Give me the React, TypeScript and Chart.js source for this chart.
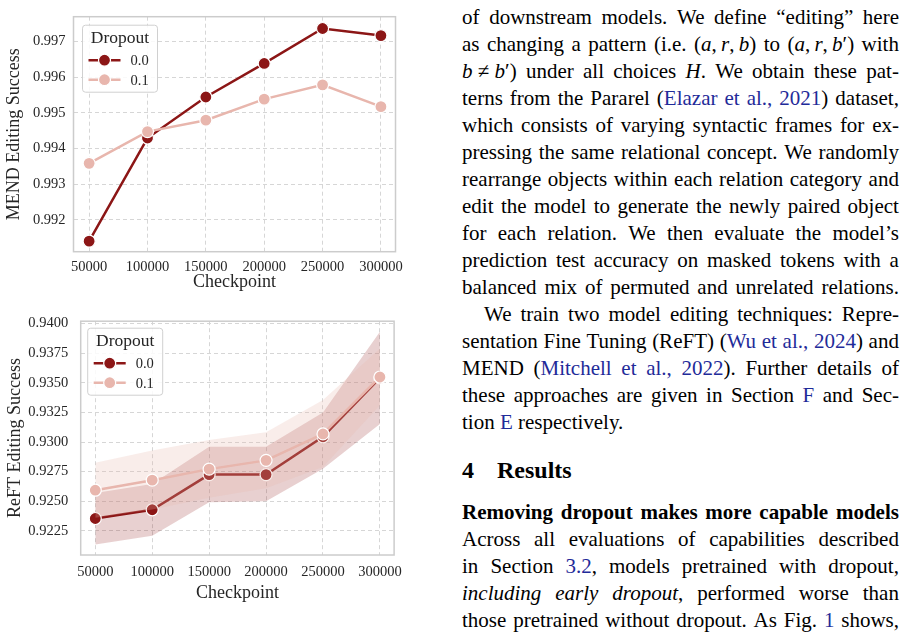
import React, { useEffect, useRef } from "react";
import { Chart, registerables } from "chart.js";

Chart.register(...registerables);

// ---------------- data ----------------
const checkpoints = [50000, 100000, 150000, 200000, 250000, 300000];
const dropoutLabels = ["0.0", "0.1"];

const mendDropout00 = [0.9914, 0.99429, 0.99544, 0.99638, 0.99736, 0.99716];
const mendDropout01 = [0.99358, 0.99447, 0.99479, 0.99538, 0.99578, 0.99517];
const mendYTicks = [0.992, 0.993, 0.994, 0.995, 0.996, 0.997];

const reftDropout00 = [0.92354, 0.92428, 0.92725, 0.92725, 0.93044, 0.93541];
const reftDropout01 = [0.92593, 0.92678, 0.92771, 0.92845, 0.93068, 0.93549];
const reftDropout00Lower = [0.92135, 0.92209, 0.92492, 0.925, 0.92775, 0.93151];
const reftDropout00Upper = [0.9257, 0.92645, 0.9296, 0.9296, 0.9325, 0.9393];
const reftDropout01Lower = [0.9236, 0.9243, 0.9253, 0.9261, 0.9279, 0.9331];
const reftDropout01Upper = [0.92825, 0.92928, 0.93016, 0.93082, 0.93354, 0.9379];
const reftYTicks = [0.9225, 0.925, 0.9275, 0.93, 0.9325, 0.935, 0.9375, 0.94];

// ---------------- styles ----------------
const SERIF = '"Liberation Serif", "Times New Roman", serif';
const SERIES_COLORS = ["#8c1616", "#e8b6ad"];
const BAND_COLORS = ["rgba(140,22,22,0.2)", "rgba(232,182,173,0.25)"];
const TEXT_COLOR = "#262626";
const LINK = "#1f2b99";

const pts = (vals: number[]) => checkpoints.map((x, i) => ({ x, y: vals[i] }));

const frameLegendPlugin = {
  id: "frameLegend",
  afterDatasetsDraw(chart: any, _args: any, opts: any) {
    const { ctx, chartArea: a } = chart;
    ctx.save();
    ctx.strokeStyle = "#cccccc";
    ctx.lineWidth = 1.5;
    ctx.strokeRect(a.left, a.top, a.right - a.left, a.bottom - a.top);

    const bx = a.left + opts.dx;
    const by = a.top + opts.dy;
    const bw = 75;
    const bh = 67;
    ctx.beginPath();
    if (ctx.roundRect) ctx.roundRect(bx, by, bw, bh, 3);
    else ctx.rect(bx, by, bw, bh);
    ctx.fillStyle = "rgba(255,255,255,0.85)";
    ctx.fill();
    ctx.strokeStyle = "#d0d0d0";
    ctx.lineWidth = 1;
    ctx.stroke();

    ctx.fillStyle = TEXT_COLOR;
    ctx.font = `17.5px ${SERIF}`;
    ctx.textAlign = "center";
    ctx.textBaseline = "middle";
    ctx.fillText(opts.title, bx + bw / 2, by + 13);

    opts.entries.forEach((e: any, i: number) => {
      const y = by + 35 + i * 19.5;
      ctx.strokeStyle = e.color;
      ctx.lineWidth = 2.5;
      ctx.beginPath();
      ctx.moveTo(bx + 6, y);
      ctx.lineTo(bx + 38, y);
      ctx.stroke();
      ctx.beginPath();
      ctx.arc(bx + 22, y, 6, 0, Math.PI * 2);
      ctx.fillStyle = e.color;
      ctx.fill();
      ctx.strokeStyle = "#ffffff";
      ctx.lineWidth = 1.2;
      ctx.stroke();
      ctx.fillStyle = TEXT_COLOR;
      ctx.font = `14.5px ${SERIF}`;
      ctx.textAlign = "left";
      ctx.textBaseline = "middle";
      ctx.fillText(e.label, bx + 48, y + 1);
    });
    ctx.restore();
  },
};

interface PanelProps {
  top: number;
  width: number;
  height: number;
  area: { left: number; top: number; right: number; bottom: number };
  xMin: number;
  xMax: number;
  yMin: number;
  yMax: number;
  yTicks: number[];
  decimals: number;
  yTitle: string;
  series: number[][];
  bands?: { lower: number[]; upper: number[] }[];
  xTickPad: number;
  yTickPad: number;
  xTitlePadBottom: number;
  yTitlePadTop: number;
  legendDx: number;
  legendDy: number;
}

function Panel(p: PanelProps) {
  const ref = useRef<HTMLCanvasElement>(null);
  useEffect(() => {
    if (!ref.current) return;
    const datasets: any[] = [];
    let order = 100;
    p.series.forEach((vals, si) => {
      const color = SERIES_COLORS[si];
      const band = p.bands ? p.bands[si] : undefined;
      if (band) {
        const upIdx = datasets.length;
        datasets.push({
          label: "_band",
          data: pts(band.upper),
          fill: upIdx + 1,
          backgroundColor: BAND_COLORS[si],
          borderColor: "rgba(0,0,0,0)",
          borderWidth: 0,
          pointRadius: 0,
          order: order--,
        });
        datasets.push({
          label: "_band",
          data: pts(band.lower),
          fill: false,
          borderColor: "rgba(0,0,0,0)",
          borderWidth: 0,
          pointRadius: 0,
          order: order--,
        });
      }
      datasets.push({
        label: dropoutLabels[si],
        data: pts(vals),
        borderColor: color,
        backgroundColor: color,
        borderWidth: 2.5,
        pointRadius: 6,
        pointHoverRadius: 6,
        pointBackgroundColor: color,
        pointBorderColor: "#ffffff",
        pointBorderWidth: 1.2,
        fill: false,
        tension: 0,
        order: order--,
      });
    });

    const chart = new Chart(ref.current, {
      type: "line",
      data: { datasets },
      plugins: [frameLegendPlugin as any],
      options: {
        responsive: false,
        animation: false,
        devicePixelRatio: 1,
        events: [],
        layout: { padding: { left: 0, top: p.area.top, right: p.width - p.area.right, bottom: 0 } },
        plugins: {
          legend: { display: false },
          tooltip: { enabled: false },
          frameLegend: {
            dx: p.legendDx,
            dy: p.legendDy,
            title: "Dropout",
            entries: dropoutLabels.map((l, i) => ({ label: l, color: SERIES_COLORS[i] })),
          },
        } as any,
        scales: {
          x: {
            type: "linear",
            min: p.xMin,
            max: p.xMax,
            afterBuildTicks: (s: any) => {
              s.ticks = checkpoints.map((v) => ({ value: v }));
            },
            afterFit: (s: any) => {
              s.height = p.height - p.area.bottom;
            },
            ticks: {
              font: { family: SERIF, size: 14.5 },
              color: TEXT_COLOR,
              padding: p.xTickPad,
              maxRotation: 0,
              autoSkip: false,
              callback: (v: any) => String(v),
            },
            grid: { color: "#d6d6d6", lineWidth: 1, drawTicks: false },
            border: { display: false, dash: [4, 3] },
            title: {
              display: true,
              text: "Checkpoint",
              font: { family: SERIF, size: 18 },
              color: TEXT_COLOR,
              padding: { top: 0, bottom: p.xTitlePadBottom },
            },
          },
          y: {
            type: "linear",
            min: p.yMin,
            max: p.yMax,
            afterBuildTicks: (s: any) => {
              s.ticks = p.yTicks.map((v) => ({ value: v }));
            },
            afterFit: (s: any) => {
              s.width = p.area.left;
            },
            ticks: {
              font: { family: SERIF, size: 14.5 },
              color: TEXT_COLOR,
              padding: p.yTickPad,
              autoSkip: false,
              callback: (v: any) => Number(v).toFixed(p.decimals),
            },
            grid: { color: "#d6d6d6", lineWidth: 1, drawTicks: false },
            border: { display: false, dash: [4, 3] },
            title: {
              display: true,
              text: p.yTitle,
              font: { family: SERIF, size: 18 },
              color: TEXT_COLOR,
              padding: { top: p.yTitlePadTop, bottom: 0 },
            },
          },
        },
      } as any,
    });
    return () => chart.destroy();
  }, []);
  return (
    <canvas
      ref={ref}
      width={p.width}
      height={p.height}
      style={{ position: "absolute", left: 0, top: p.top, width: p.width, height: p.height, display: "block" }}
    />
  );
}

// ---------------- paper text ----------------
type Run = { text: string; italic: boolean; blue: boolean };

function parseWords(line: string): Run[][] {
  const words: Run[][] = [[]];
  let italic = false;
  let blue = false;
  let buf = "";
  const flush = () => {
    if (buf) words[words.length - 1].push({ text: buf, italic, blue });
    buf = "";
  };
  for (const ch of line) {
    if (ch === "_") {
      flush();
      italic = !italic;
    } else if (ch === "[") {
      flush();
      blue = true;
    } else if (ch === "]") {
      flush();
      blue = false;
    } else if (ch === " ") {
      flush();
      words.push([]);
    } else buf += ch;
  }
  flush();
  return words.filter((w) => w.length > 0);
}

const paperLines: { t: string; base: number; justify?: boolean; indent?: number; bold?: boolean }[] = [
  { t: "of downstream models. We define “editing” here", base: 25 },
  { t: "as changing a pattern (i.e. (_a_,\u2009_r_,\u2009_b_) to (_a_,\u2009_r_,\u2009_b_′) with", base: 52 },
  { t: "_b_\u2005≠\u2005_b_′) under all choices _H_. We obtain these pat-", base: 79 },
  { t: "terns from the Pararel ([Elazar et al., 2021]) dataset,", base: 106 },
  { t: "which consists of varying syntactic frames for ex-", base: 133 },
  { t: "pressing the same relational concept. We randomly", base: 160 },
  { t: "rearrange objects within each relation category and", base: 187 },
  { t: "edit the model to generate the newly paired object", base: 214 },
  { t: "for each relation. We then evaluate the model’s", base: 241 },
  { t: "prediction test accuracy on masked tokens with a", base: 268 },
  { t: "balanced mix of permuted and unrelated relations.", base: 295 },
  { t: "We train two model editing techniques: Repre-", base: 322, indent: 22 },
  { t: "sentation Fine Tuning (ReFT) ([Wu et al., 2024]) and", base: 349 },
  { t: "MEND ([Mitchell et al., 2022]). Further details of", base: 376 },
  { t: "these approaches are given in Section [F] and Sec-", base: 403 },
  { t: "tion [E] respectively.", base: 430, justify: false },
  { t: "Removing dropout makes more capable models", base: 520, bold: true },
  { t: "Across all evaluations of capabilities described", base: 547 },
  { t: "in Section [3.2], models pretrained with dropout,", base: 574 },
  { t: "_including early dropout_, performed worse than", base: 601 },
  { t: "those pretrained without dropout. As Fig. [1] shows,", base: 628 },
];

const TEXT_LEFT = 462;
const TEXT_WIDTH = 437;

function RunSpan({ r }: { r: Run }) {
  return (
    <span style={{ fontStyle: r.italic ? "italic" : "normal", color: r.blue ? LINK : "#000" }}>{r.text}</span>
  );
}

function PaperText() {
  return (
    <>
      {paperLines.map((ln, i) => {
        const words = parseWords(ln.t);
        const indent = ln.indent || 0;
        const common: React.CSSProperties = {
          position: "absolute",
          left: TEXT_LEFT + indent,
          top: ln.base - 20.6,
          height: 27,
          lineHeight: "27px",
          fontSize: 21,
          fontFamily: SERIF,
          fontWeight: ln.bold ? "bold" : "normal",
          color: "#000",
          whiteSpace: "pre",
        };
        if (ln.justify === false) {
          return (
            <div key={i} style={common}>
              {words.map((w, wi) => (
                <span key={wi}>
                  {wi > 0 ? " " : ""}
                  {w.map((r, ri) => (
                    <RunSpan key={ri} r={r} />
                  ))}
                </span>
              ))}
            </div>
          );
        }
        return (
          <div
            key={i}
            style={{ ...common, width: TEXT_WIDTH - indent, display: "flex", justifyContent: "space-between" }}
          >
            {words.map((w, wi) => (
              <span key={wi}>
                {w.map((r, ri) => (
                  <RunSpan key={ri} r={r} />
                ))}
              </span>
            ))}
          </div>
        );
      })}
      <div
        style={{
          position: "absolute",
          left: TEXT_LEFT,
          top: 478.3 - 21.6,
          height: 27,
          lineHeight: "27px",
          fontSize: 24,
          fontWeight: "bold",
          fontFamily: SERIF,
          whiteSpace: "pre",
        }}
      >
        4
      </div>
      <div
        style={{
          position: "absolute",
          left: 497,
          top: 478.3 - 21.6,
          height: 27,
          lineHeight: "27px",
          fontSize: 24,
          fontWeight: "bold",
          fontFamily: SERIF,
          whiteSpace: "pre",
        }}
      >
        Results
      </div>
    </>
  );
}

export default function App() {
  return (
    <div
      style={{
        position: "absolute",
        left: 0,
        top: 0,
        width: 907,
        height: 634,
        background: "#ffffff",
        overflow: "hidden",
      }}
    >
      <Panel
        top={0}
        width={410}
        height={300}
        area={{ left: 73.5, top: 6, right: 403.5, bottom: 251.7 }}
        xMin={36600}
        xMax={312500}
        yMin={0.991105}
        yMax={0.99769}
        yTicks={mendYTicks}
        decimals={3}
        yTitle="MEND Editing Success"
        series={[mendDropout00, mendDropout01]}
        xTickPad={7}
        yTickPad={8}
        xTitlePadBottom={7}
        yTitlePadTop={3}
        legendDx={9}
        legendDy={8.5}
      />
      <Panel
        top={300}
        width={410}
        height={320}
        area={{ left: 80.7, top: 15, right: 403.3, bottom: 255 }}
        xMin={37200}
        xMax={312450}
        yMin={0.92046}
        yMax={0.9402}
        yTicks={reftYTicks}
        decimals={4}
        yTitle="ReFT Editing Success"
        series={[reftDropout00, reftDropout01]}
        bands={[
          { lower: reftDropout00Lower, upper: reftDropout00Upper },
          { lower: reftDropout01Lower, upper: reftDropout01Upper },
        ]}
        xTickPad={8}
        yTickPad={12.5}
        xTitlePadBottom={16}
        yTitlePadTop={4}
        legendDx={7}
        legendDy={7}
      />
      <PaperText />
    </div>
  );
}
